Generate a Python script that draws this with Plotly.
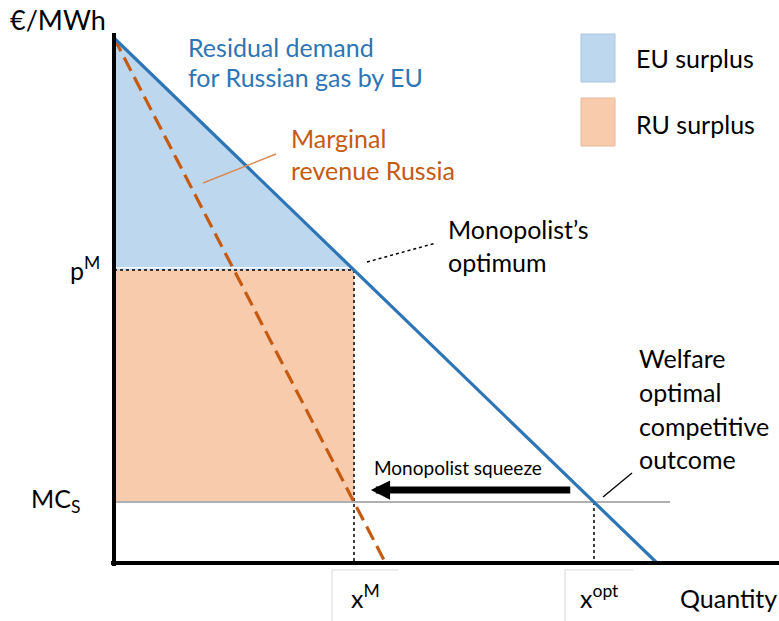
import plotly.graph_objects as go

# ---- data (economic units) ----
demand_q = [0, 100]
demand_p = [100, 0]
mr_q = [0, 50]
mr_p = [100, 0]
mc_level = 11.6
mc_line_q = [0, 102.4]
x_m = 44.2
p_m = 55.8
x_opt = 88.4
squeeze_from = 84.3
squeeze_to = 47.3
squeeze_level = 13.9

BLUE = "#2E75B6"
ORANGE = "#C55A11"
EU_FILL = "#BDD7EE"
RU_FILL = "#F8CBAD"
FONT = "Lato"

W, H = 779, 621
L, R, T, B = 114, 779, 33, 563


def px(x):
    return (x - L) / (R - L)


def py(y):
    return (B - y) / (B - T)


fig = go.Figure()

# EU surplus triangle
fig.add_trace(go.Scatter(x=[0, 0, x_m, 0], y=[demand_p[0], p_m, p_m, demand_p[0]],
                         fill="toself", fillcolor=EU_FILL, mode="none", hoverinfo="skip"))
# RU surplus rectangle
fig.add_trace(go.Scatter(x=[0, x_m, x_m, 0, 0], y=[mc_level, mc_level, p_m, p_m, mc_level],
                         fill="toself", fillcolor=RU_FILL, mode="none", hoverinfo="skip"))
# white seam between the surplus areas
fig.add_trace(go.Scatter(x=[0, x_m], y=[p_m + 0.45, p_m + 0.45], mode="lines",
                         line=dict(color="white", width=1.5), hoverinfo="skip"))
# MC line
fig.add_trace(go.Scatter(x=mc_line_q, y=[mc_level, mc_level], mode="lines",
                         line=dict(color="#B0B0B0", width=2), hoverinfo="skip"))
# dotted guides
for xs, ys in [([0, x_m], [p_m, p_m]), ([x_m, x_m], [p_m, 0]), ([x_opt, x_opt], [mc_level, 0])]:
    fig.add_trace(go.Scatter(x=xs, y=ys, mode="lines",
                             line=dict(color="black", width=1.5, dash="dot"), hoverinfo="skip"))
# Marginal revenue (dashed)
fig.add_trace(go.Scatter(x=mr_q, y=mr_p, mode="lines",
                         line=dict(color=ORANGE, width=3.2, dash="15px,7px"), hoverinfo="skip"))
# Residual demand
fig.add_trace(go.Scatter(x=demand_q, y=demand_p, mode="lines",
                         line=dict(color=BLUE, width=3.2), hoverinfo="skip"))

shapes = []
# axes
shapes.append(dict(type="line", xref="paper", yref="paper", x0=px(111), x1=1.0, y0=0, y1=0,
                   line=dict(color="black", width=4)))
shapes.append(dict(type="line", xref="paper", yref="paper", x0=0, x1=0, y0=py(566), y1=1.0,
                   line=dict(color="black", width=4)))
# leader lines
shapes.append(dict(type="line", xref="paper", yref="paper", x0=px(203), y0=py(183), x1=px(276), y1=py(154),
                   line=dict(color="#D98A55", width=1.5)))
shapes.append(dict(type="line", xref="paper", yref="paper", x0=px(367), y0=py(262), x1=px(436), y1=py(243),
                   line=dict(color="black", width=1.5, dash="dot")))
shapes.append(dict(type="line", xref="paper", yref="paper", x0=px(603), y0=py(497), x1=px(632), y1=py(473),
                   line=dict(color="black", width=1.3)))
# legend squares
shapes.append(dict(type="rect", xref="paper", yref="paper", x0=px(581), x1=px(615), y0=py(82), y1=py(34),
                   fillcolor=EU_FILL, line=dict(color="#A9C4DE", width=1)))
shapes.append(dict(type="rect", xref="paper", yref="paper", x0=px(581), x1=px(615), y0=py(146), y1=py(98),
                   fillcolor=RU_FILL, line=dict(color="#E8B898", width=1)))
# tick label boxes (left + top borders)
for bx0, bx1 in [(332, 398), (565, 633)]:
    shapes.append(dict(type="line", xref="paper", yref="paper", x0=px(bx0), x1=px(bx0), y0=py(570), y1=py(621),
                       line=dict(color="#D9D9D9", width=1)))
    shapes.append(dict(type="line", xref="paper", yref="paper", x0=px(bx0), x1=px(bx1), y0=py(570), y1=py(570),
                       line=dict(color="#D9D9D9", width=1)))

ann = []


def text(t, x, y, color="black", size=25, anchor="left"):
    ann.append(dict(text=t, x=px(x), y=py(y), xref="paper", yref="paper", xanchor=anchor,
                    yanchor="middle", showarrow=False, font=dict(family=FONT, size=size, color=color)))


text("€/MWh", 8, 20, size=27)
text("Residual demand", 186, 47, BLUE)
text("for Russian gas by EU", 186, 77, BLUE)
text("Marginal", 289, 138, ORANGE)
text("revenue Russia", 289, 170, ORANGE)
text("Monopolist’s", 446, 229, "black")
text("optimum", 446, 262, "black")
text("Welfare", 637, 358)
text("optimal", 637, 392)
text("competitive", 637, 426)
text("outcome", 637, 459)
text("EU surplus", 634, 58)
text("RU surplus", 634, 124)
text("Monopolist squeeze", 458, 467, size=19, anchor="center")
text("Quantity", 678, 598)
text("p<sup>M</sup>", 102, 268, anchor="right")
text("MC<sub>S</sub>", 82, 500, anchor="right")
text("x<sup>M</sup>", 365, 596, anchor="center")
text("x<sup>opt</sup>", 599, 596, anchor="center")

# squeeze arrow
ann.append(dict(x=squeeze_to, y=squeeze_level, ax=squeeze_from, ay=squeeze_level,
                xref="x", yref="y", axref="x", ayref="y", text="", showarrow=True,
                arrowhead=2, arrowsize=0.55, arrowwidth=7, arrowcolor="black"))

fig.update_layout(
    width=W, height=H,
    margin=dict(l=L, r=W - R, t=T, b=H - B),
    paper_bgcolor="white", plot_bgcolor="white",
    showlegend=False,
    xaxis=dict(range=[0, (R - L) / 5.43], visible=False, fixedrange=True),
    yaxis=dict(range=[0, (B - T) / 5.25], visible=False, fixedrange=True),
    shapes=shapes, annotations=ann,
    font=dict(family=FONT),
)

fig.write_html("out.html", config={"displayModeBar": False},
               post_script="document.body.style.margin='0';")
